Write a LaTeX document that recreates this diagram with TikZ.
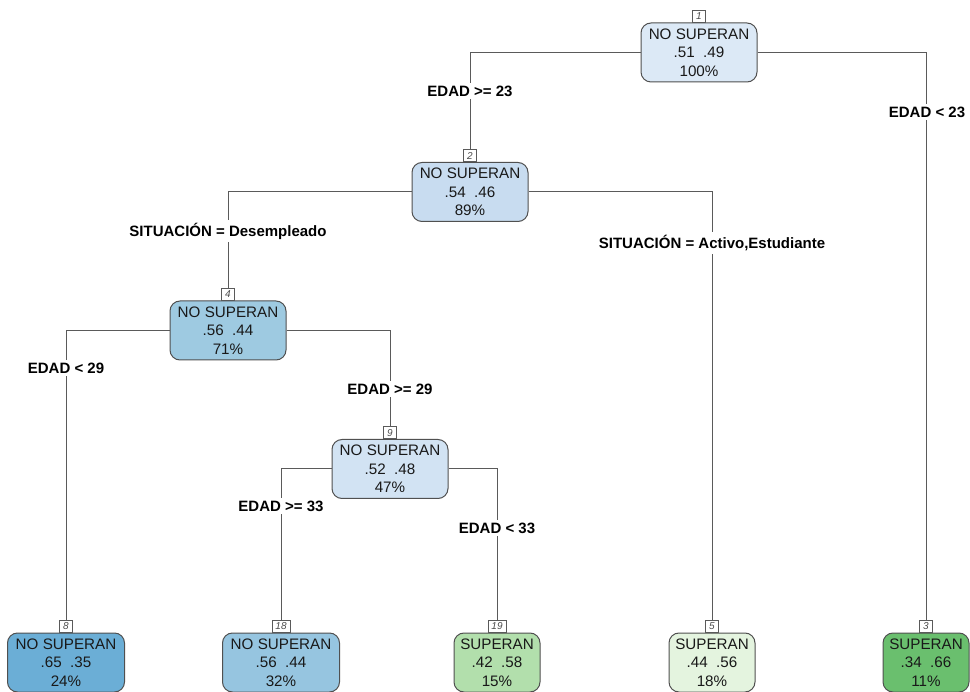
\documentclass[tikz,border=0pt]{standalone}
\usepackage{fontspec}
\setmainfont{Liberation Sans}
\definecolor{cn1}{RGB}{220,233,246}
\definecolor{cn2}{RGB}{200,220,240}
\definecolor{cn4}{RGB}{158,202,225}
\definecolor{cn9}{RGB}{210,227,243}
\definecolor{cn8}{RGB}{107,174,214}
\definecolor{cn18}{RGB}{150,197,224}
\definecolor{cn19}{RGB}{178,223,172}
\definecolor{cn5}{RGB}{228,244,223}
\definecolor{cn3}{RGB}{106,191,110}
\definecolor{edge}{RGB}{80,80,80}
\definecolor{conn}{RGB}{90,90,90}
\tikzset{
  treebox/.style={draw=edge, line width=1pt, rounded corners=10pt, align=center,
    minimum height=59pt, inner sep=0pt, text=black!90, font=\fontsize{15.2}{18.5}\selectfont},
  nobox/.style={treebox, minimum width=116pt},
  sibox/.style={treebox, minimum width=86pt},
  numbox/.style={draw=conn, line width=0.6pt, fill=white, inner sep=1pt,
    minimum width=13pt, minimum height=12pt, text=black!70,
    font=\fontsize{10}{11}\selectfont\itshape, anchor=south},
  splitlab/.style={fill=white, inner sep=3pt, font=\fontsize{15}{16}\selectfont\bfseries},
  link/.style={draw=conn, line width=1pt}
}
\newcommand{\pr}[2]{#1\hspace{0.55em}#2}
\begin{document}
\begin{tikzpicture}[x=1pt,y=-1pt]
\useasboundingbox (0,0) rectangle (970,692);
% internal nodes
\node[nobox, fill=cn1] (n1) at (699,52.5) {NO SUPERAN\\\pr{.51}{.49}\\100\%};
\node[nobox, fill=cn2] (n2) at (470,192) {NO SUPERAN\\\pr{.54}{.46}\\89\%};
\node[nobox, fill=cn4] (n4) at (228,330.5) {NO SUPERAN\\\pr{.56}{.44}\\71\%};
\node[nobox, fill=cn9] (n9) at (390,469) {NO SUPERAN\\\pr{.52}{.48}\\47\%};
% leaves
\node[nobox, fill=cn8, minimum width=117pt] (n8) at (66,662.5) {NO SUPERAN\\\pr{.65}{.35}\\24\%};
\node[nobox, fill=cn18, minimum width=117pt] (n18) at (281,662.5) {NO SUPERAN\\\pr{.56}{.44}\\32\%};
\node[sibox, fill=cn19] (n19) at (497,662.5) {SUPERAN\\\pr{.42}{.58}\\15\%};
\node[sibox, fill=cn5] (n5) at (712,662.5) {SUPERAN\\\pr{.44}{.56}\\18\%};
\node[sibox, fill=cn3] (n3) at (926,662.5) {SUPERAN\\\pr{.34}{.66}\\11\%};
% number boxes
\node[numbox] (k1) at (n1.north) {1};
\node[numbox] (k2) at (n2.north) {2};
\node[numbox] (k4) at (n4.north) {4};
\node[numbox] (k9) at (n9.north) {9};
\node[numbox] (k8) at (n8.north) {8};
\node[numbox, minimum width=18pt] (k18) at (n18.north) {18};
\node[numbox, minimum width=18pt] (k19) at (n19.north) {19};
\node[numbox] (k5) at (n5.north) {5};
\node[numbox] (k3) at (n3.north) {3};
% connectors
\draw[link] (n1.west) -| (k2.north);
\draw[link] (n1.east) -| (k3.north);
\draw[link] (n2.west) -| (k4.north);
\draw[link] (n2.east) -| (k5.north);
\draw[link] (n4.west) -| (k8.north);
\draw[link] (n4.east) -| (k9.north);
\draw[link] (n9.west) -| (k18.north);
\draw[link] (n9.east) -| (k19.north);
% split labels
\node[splitlab] (s2) at (470,91) {EDAD >= 23};
\node[splitlab] (s3) at (927,112) {EDAD < 23};
\node[splitlab] (s4) at (228,231) {SITUACIÓN = Desempleado};
\node[splitlab] (s5) at (712,243) {SITUACIÓN = Activo,Estudiante};
\node[splitlab] (s8) at (66,368) {EDAD < 29};
\node[splitlab] (s9) at (390,389) {EDAD >= 29};
\node[splitlab] (s18) at (281,506) {EDAD >= 33};
\node[splitlab] (s19) at (497,528) {EDAD < 33};
\end{tikzpicture}
\end{document}
